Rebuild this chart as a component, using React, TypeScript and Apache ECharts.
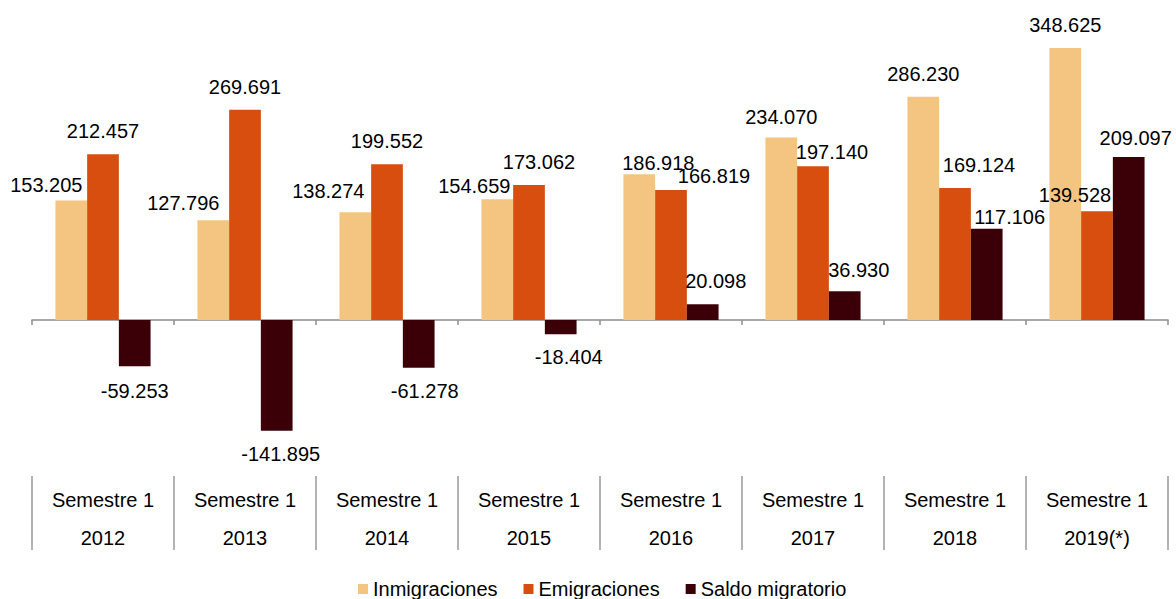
import React, { useEffect, useRef } from "react";
import * as echarts from "echarts";

const categories = ["2012", "2013", "2014", "2015", "2016", "2017", "2018", "2019(*)"];
const semesterLabel = "Semestre 1";
const inmigraciones = [153205, 127796, 138274, 154659, 186918, 234070, 286230, 348625];
const emigraciones = [212457, 269691, 199552, 173062, 166819, 197140, 169124, 139528];
const saldo = [-59253, -141895, -61278, -18404, 20098, 36930, 117106, 209097];
const seriesNames = ["Inmigraciones", "Emigraciones", "Saldo migratorio"];

// label nudges (style only), [dx, dy] in px
const nudgeInm = [[-25, 7], [-30, 6], [-27, 2], [-23, 10], [19, 12], [0, 3], [0, 0], [0, 0]];
const nudgeEmi = [[0, 0], [0, 0], [0, 0], [10, 0], [43, 9], [19, 9], [24, 0], [-22, 7]];
const nudgeSal = [[0, 2], [4, 0], [6, 0], [8, 0], [13, 0], [14, 2], [23, 11], [7, 4]];

const COLORS = ["#F4C481", "#D74E0F", "#3B0007"];
const FONT = "'Liberation Sans', Arial, sans-serif";

function fmt(v: number): string {
  const s = Math.abs(v).toString().replace(/\B(?=(\d{3})+(?!\d))/g, ".");
  return (v < 0 ? "-" : "") + s;
}

function buildData(values: number[], nudges: number[][]) {
  return values.map((v, i) => ({
    value: v,
    label: {
      position: v < 0 ? "bottom" : "top",
      offset: nudges[i],
    },
  }));
}

export default function App() {
  const ref = useRef<HTMLDivElement>(null);
  useEffect(() => {
    document.body.style.margin = "0";
    const chart = echarts.init(ref.current!, null, { renderer: "svg" });
    const labelBase = {
      show: true,
      distance: 13,
      fontSize: 20,
      fontFamily: FONT,
      color: "#000",
      formatter: (p: any) => fmt(p.value),
    };
    chart.setOption({
      animation: false,
      textStyle: { fontFamily: FONT },
      grid: { left: 32, right: 8, top: 47, bottom: 123 },
      legend: {
        data: seriesNames,
        left: 353,
        top: 574,
        icon: "rect",
        itemWidth: 10,
        itemHeight: 10,
        itemGap: 26,
        textStyle: { fontSize: 20, color: "#000", fontFamily: FONT },
      },
      xAxis: [
        {
          type: "category",
          data: categories,
          axisLine: { onZero: true, lineStyle: { color: "#8c8c8c", width: 1.5 } },
          axisTick: { show: true, length: 5, lineStyle: { color: "#8c8c8c", width: 1.5 } },
          axisLabel: { show: false },
        },
        {
          type: "category",
          data: categories,
          position: "bottom",
          axisLine: { show: false, onZero: false },
          axisTick: { show: true, length: 74, lineStyle: { color: "#9a9a9a", width: 1.5 } },
          axisLabel: {
            show: true,
            margin: 5,
            fontSize: 20,
            lineHeight: 38,
            color: "#000",
            fontFamily: FONT,
            formatter: (v: string) => semesterLabel + "\n" + v,
          },
        },
      ],
      yAxis: {
        type: "value",
        min: -200000,
        max: 350000,
        show: false,
        splitLine: { show: false },
      },
      series: [
        {
          name: seriesNames[0],
          type: "bar",
          xAxisIndex: 0,
          barGap: "0%",
          barCategoryGap: "33%",
          itemStyle: { color: COLORS[0] },
          label: labelBase,
          data: buildData(inmigraciones, nudgeInm),
        },
        {
          name: seriesNames[1],
          type: "bar",
          xAxisIndex: 0,
          barGap: "0%",
          barCategoryGap: "33%",
          itemStyle: { color: COLORS[1] },
          label: labelBase,
          data: buildData(emigraciones, nudgeEmi),
        },
        {
          name: seriesNames[2],
          type: "bar",
          xAxisIndex: 0,
          barGap: "0%",
          barCategoryGap: "33%",
          itemStyle: { color: COLORS[2] },
          label: labelBase,
          data: buildData(saldo, nudgeSal),
        },
      ],
    });
    return () => chart.dispose();
  }, []);
  return <div ref={ref} style={{ width: 1176, height: 599 }} />;
}
